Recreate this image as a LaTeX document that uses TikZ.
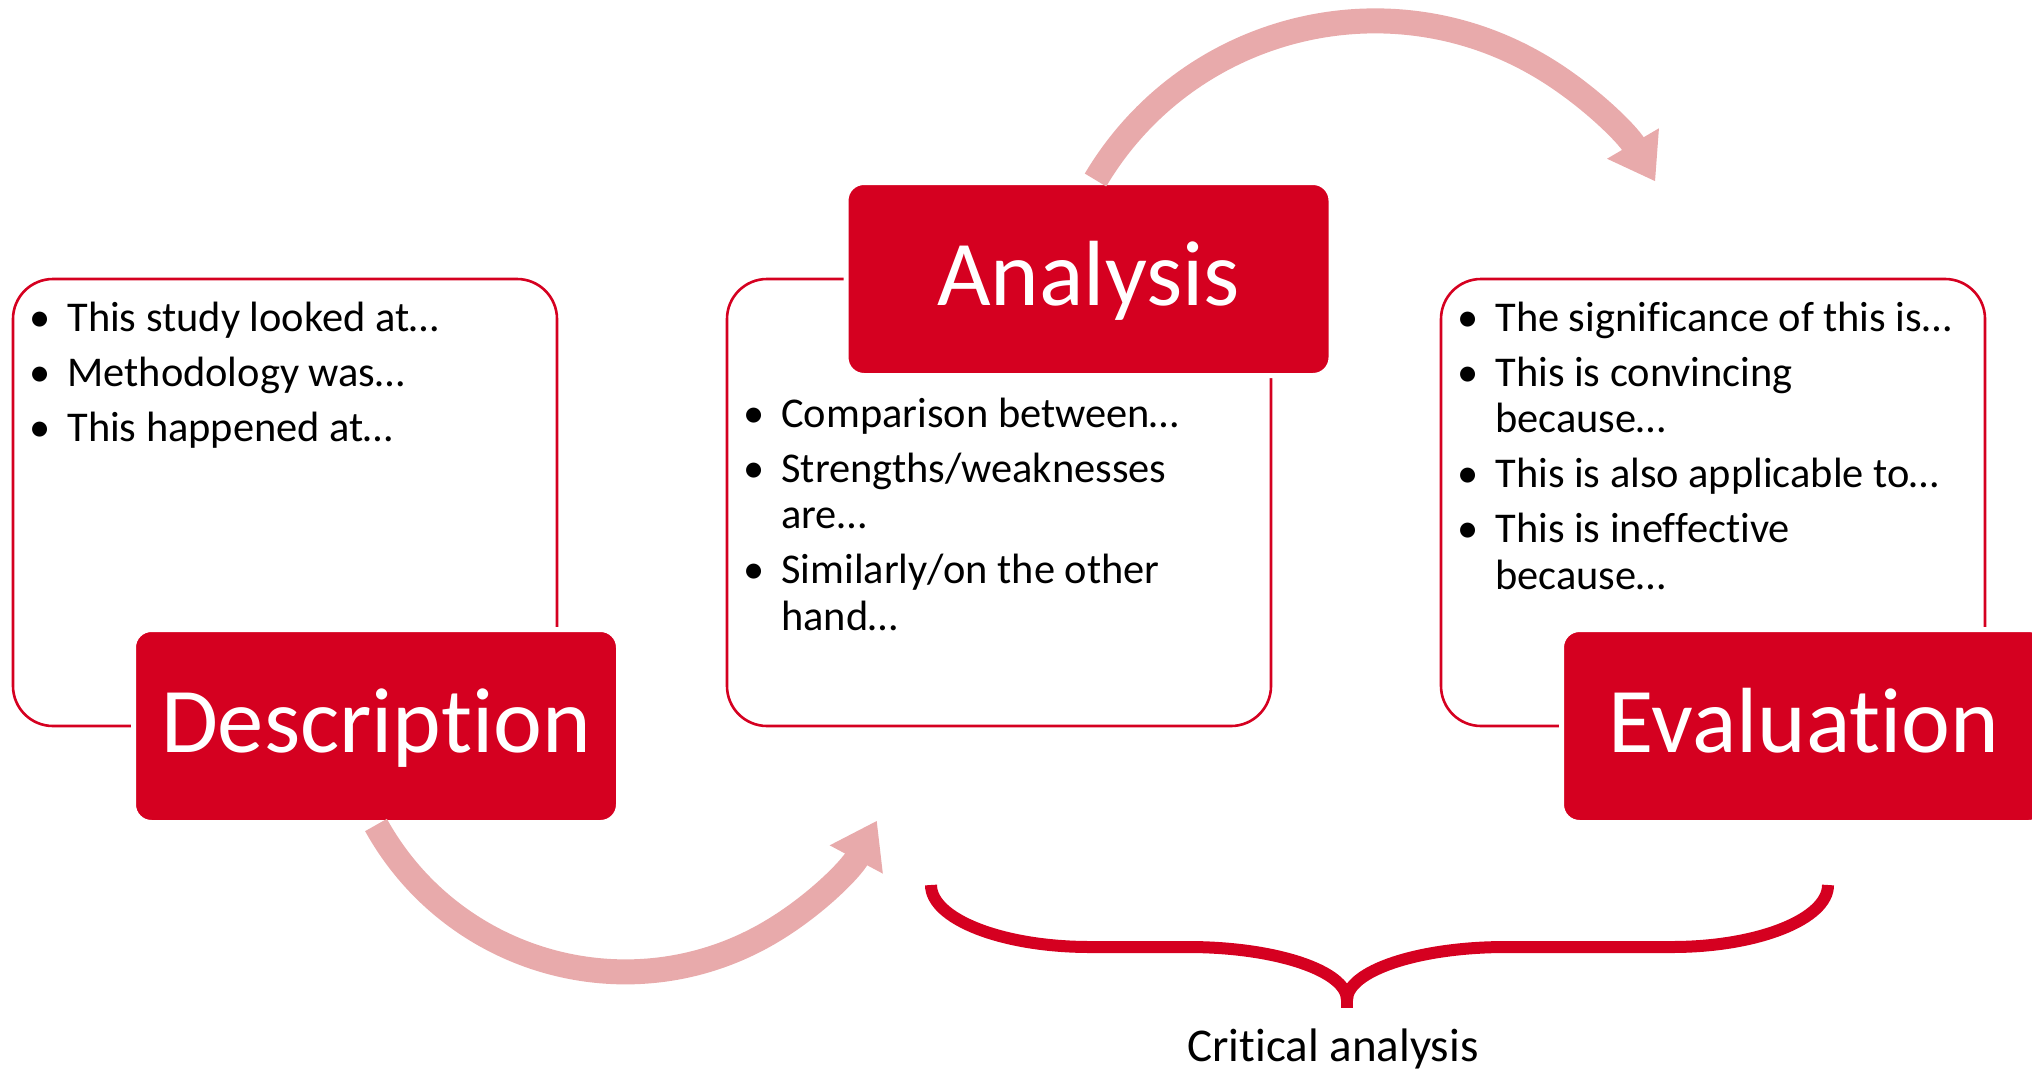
\documentclass[tikz,border=0pt]{standalone}
\usepackage{fontspec}
\setmainfont{Carlito}[Ligatures=NoCommon]
\usetikzlibrary{arrows.meta}
\definecolor{cred}{RGB}{213,0,32}
\definecolor{cpink}{RGB}{232,170,171}
\newcommand\mybul{\makebox[27pt][c]{•}}
\begin{document}
\begin{tikzpicture}[x=0.5pt,y=-0.5pt,
  outline/.style={draw=cred, line width=1.3pt, rounded corners=20pt, minimum width=272pt,
    minimum height=223.5pt, inner sep=0pt, outer sep=0pt, anchor=north west},
  titlebox/.style={fill=cred, draw=white, line width=2.5pt, rounded corners=9pt,
    minimum width=242.5pt, minimum height=96.5pt, inner sep=0pt, text=white,
    font=\fontsize{46.3}{50}\selectfont, text height=35pt, text depth=9pt},
  bullets/.style={anchor=base west, inner sep=0pt, font=\fontsize{21.2}{23.25}\selectfont},
  flow/.style={draw=cpink, line width=12.5pt, -{Triangle[width=28.5pt,length=22pt]}},
  bracestroke/.style={draw=cred, line width=6pt},
]
\useasboundingbox (0,0) rectangle (2032,1070);

% outline boxes
\node[outline] (descO) at (13,279) {};
\node[outline] (anaO) at (727,279) {};
\node[outline] (evalO) at (1441,279) {};

% bullet texts
\node[bullets] (descT) at (13,331) {\begin{tabular}[t]{@{}l@{}l@{}}
\mybul & This study looked at…\\[4.25pt]
\mybul & Methodology was…\\[4.25pt]
\mybul & This happened at…
\end{tabular}};
\node[bullets] (anaT) at (727,427) {\begin{tabular}[t]{@{}l@{}l@{}}
\mybul & Comparison between…\\[4.25pt]
\mybul & Strengths/weaknesses\\
 & are…\\[4.25pt]
\mybul & Similarly/on the other\\
 & hand…
\end{tabular}};
\node[bullets] (evalT) at (1441,331) {\begin{tabular}[t]{@{}l@{}l@{}}
\mybul & The significance of this is…\\[4.25pt]
\mybul & This is convincing\\
 & because…\\[4.25pt]
\mybul & This is also applicable to…\\[4.25pt]
\mybul & This is ineffective\\
 & because…
\end{tabular}};

% title boxes
\node[titlebox] (desc) at (376,726) {Description};
\node[titlebox] (ana) at (1088.5,279) {Analysis};
\node[titlebox] (eval) at (1804,726) {Evaluation};

% curved arrows
\draw[flow] (desc.south) arc[start angle=151, end angle=28, radius=285];
\draw[flow] ([xshift=3.5pt]ana.north) arc[start angle=-149.3, end angle=-30.4, radius=325];

% brace
\coordinate (tip) at (1347,1000);
\draw[bracestroke] (931,885) .. controls (931,919) and (1002,947) .. (1090,947)
  -- (1188,947) .. controls (1276,947) and (1347,971) .. (tip);
\draw[bracestroke] (tip) .. controls (1347,971) and (1418,947) .. (1506,947)
  -- (1672,947) .. controls (1758,947) and (1828,919) .. (1828,885);
\draw[bracestroke] (1347,994) -- (1347,1008);

\node[anchor=base, inner sep=0pt, font=\fontsize{23.5}{26}\selectfont] (crit) at (1333,1061) {Critical analysis};
\end{tikzpicture}
\end{document}
